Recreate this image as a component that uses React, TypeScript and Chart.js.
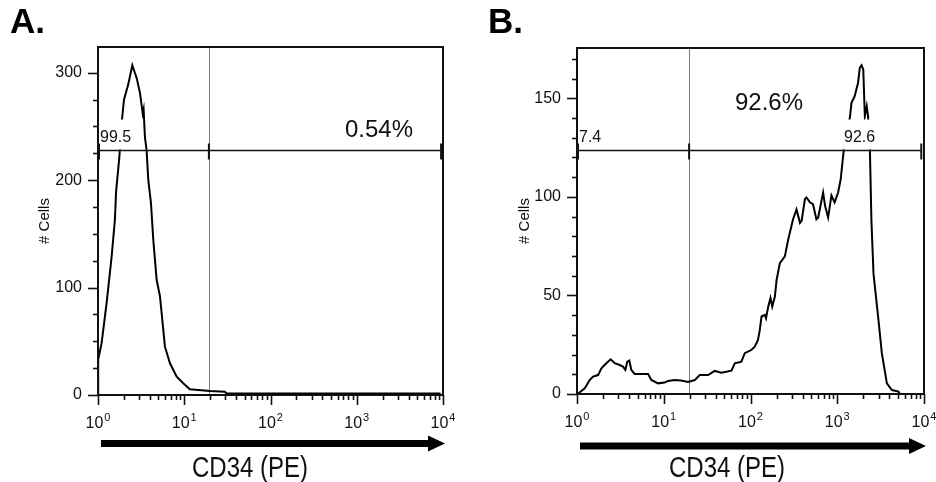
import React, { useEffect, useRef } from "react";
import { Chart, registerables } from "chart.js";

Chart.register(...registerables);

// ---------------- Data ----------------
// Panel A: CD34 (PE) intensity vs # cells
const panelAIntensity = [1.0, 1.0, 1.01, 1.1, 1.26, 1.44, 1.57, 1.62, 1.77, 1.88, 2.0, 2.24, 2.5, 2.81, 3.07, 3.3, 3.38, 3.5, 3.66, 3.83, 4.11, 4.38, 4.79, 5.23, 5.97, 6.83, 8.17, 9.73, 11.6, 19.9, 29.6, 31, 9100, 9200];
const panelACells = [0, 39, 33, 48, 86, 129, 163, 189, 222, 253, 275, 289, 307, 295, 281, 262, 266, 240, 228, 200, 179, 144, 107, 92, 45, 29.5, 17, 11, 5.3, 3.7, 3, 1.5, 1.5, 0];

// Panel B
const panelBIntensity = [1.0, 1.05, 1.23, 1.4, 1.53, 1.75, 1.91, 2.18, 2.44, 2.72, 3.1, 3.39, 3.61, 3.8, 4.01, 4.23, 4.62, 6.59, 7.19, 8.59, 10.2, 11.2, 13.4, 15.8, 19.1, 22.8, 26.0, 32.4, 38.7, 46.2, 60.3, 65.9, 78.5, 85.9, 102, 112, 122, 128, 134, 146, 151, 160, 170, 178, 191, 200, 218, 249, 272, 309, 339, 372, 389, 424, 442, 484, 525, 575, 603, 687, 724, 785, 857, 933, 1023, 1096, 1170, 1230, 1396, 1459, 1585, 1738, 1820, 1905, 1995, 2080, 2188, 2265, 2377, 2477, 2618, 2985, 3266, 3733, 4266, 5082, 5250];
const panelBCells = [0, 0.5, 2.9, 7.1, 8.8, 9.6, 13, 15.6, 17.6, 15.6, 14.7, 13.9, 12.2, 16.4, 17, 12.2, 10.2, 10.2, 7.1, 5.4, 5.8, 6.6, 7.1, 6.8, 6.1, 7.1, 9.6, 9.6, 11.7, 10.8, 11.8, 15.6, 16.4, 20.7, 22.3, 24, 27.4, 32.5, 39.3, 40.1, 38.4, 44.3, 48.7, 44.3, 49.4, 57.9, 66.4, 69.8, 78.3, 88.5, 93.6, 86.8, 88, 98.9, 99.7, 97.2, 96.3, 88.6, 89.5, 102.2, 95.5, 89.5, 100.7, 97.2, 102.2, 109, 120.8, 130, 140, 147.7, 151, 157.9, 165.5, 166.7, 164.6, 141, 146, 141, 124.6, 88, 61, 37.6, 20.7, 5.4, 2, 1.2, 0];

// Ticks
const yTicksA = [0, 100, 200, 300];
const yTicksB = [0, 50, 100, 150];
const xDecadeValues = [1, 10, 100, 1000, 10000];
const xDecadeExponents = ["0", "1", "2", "3", "4"];

// Gates (marker region) values
const gateA = { level: 228, split: 19.3, end: 9500, left: "99.5", right: "0.54%" };
const gateB = { level: 124, split: 19.6, end: 9300, left: "7.4", right: "92.6", big: "92.6%" };

const axisTitleX = "CD34 (PE)";
const axisTitleY = "# Cells";

const FONT = "'Liberation Sans', Arial, Helvetica, sans-serif";

type PanelCfg = {
  letter: string;
  offsetX: number;
  intensity: number[];
  cells: number[];
  yMax: number;
  yTicks: number[];
  yMinorStep: number;
  gate: { level: number; split: number; end: number; left: string; right: string; big?: string };
  yWidth: number;
  xHeight: number;
  padTop: number;
  padRight: number;
  titlePad: number;
  bigLabel: { text: string; x: number; y: number; align: CanvasTextAlign };
  smallRightX: number | null; // centered x position (value) for small right label
  xTitleX: number;
  arrowStart: number;
  arrowY: number;
};

function Panel({ cfg }: { cfg: PanelCfg }) {
  const ref = useRef<HTMLCanvasElement>(null);
  useEffect(() => {
    const canvas = ref.current!;
    const plugin = {
      id: "facsDecor" + cfg.letter,
      beforeDatasetsDraw(chart: any) {
        const { ctx, chartArea: a, scales } = chart;
        const px = Math.round(scales.x.getPixelForValue(cfg.gate.split)) + 0.5;
        ctx.save();
        ctx.strokeStyle = "#7a7a7a";
        ctx.lineWidth = 1;
        ctx.beginPath();
        ctx.moveTo(px, a.top);
        ctx.lineTo(px, a.bottom);
        ctx.stroke();
        ctx.restore();
      },
      afterDatasetsDraw(chart: any) {
        const { ctx, chartArea: a, scales } = chart;
        const x = scales.x;
        const y = scales.y;
        const gy = Math.round(y.getPixelForValue(cfg.gate.level)) + 0.5;
        const x0 = a.left;
        const xm = x.getPixelForValue(cfg.gate.split);
        const x1 = x.getPixelForValue(cfg.gate.end);
        ctx.save();
        ctx.textBaseline = "alphabetic";
        // small labels with white background
        ctx.font = `16px ${FONT}`;
        const drawSmall = (text: string, cx: number, align: "left" | "center") => {
          const w = ctx.measureText(text).width;
          const left = align === "left" ? cx : cx - w / 2;
          ctx.fillStyle = "#fff";
          ctx.fillRect(left - 1, gy - 31, w + 2, 30);
          ctx.fillStyle = "#111";
          ctx.textAlign = "left";
          ctx.fillText(text, left, gy - 9);
        };
        drawSmall(cfg.gate.left, x0 + 2, "left");
        if (cfg.smallRightX !== null) {
          drawSmall(cfg.gate.right, x.getPixelForValue(cfg.smallRightX), "center");
        }
        // big label
        ctx.font = `24px ${FONT}`;
        ctx.fillStyle = "#111";
        ctx.textAlign = cfg.bigLabel.align;
        ctx.fillText(cfg.bigLabel.text, a.left + cfg.bigLabel.x, cfg.bigLabel.y);
        // gate line
        ctx.strokeStyle = "#111";
        ctx.lineWidth = 1.6;
        ctx.beginPath();
        ctx.moveTo(x0, gy);
        ctx.lineTo(x1, gy);
        ctx.stroke();
        ctx.lineWidth = 2;
        for (const px of [x0 + 1, xm, x1]) {
          ctx.beginPath();
          ctx.moveTo(px, gy - 7);
          ctx.lineTo(px, gy + 9);
          ctx.stroke();
        }
        ctx.restore();
      },
      afterDraw(chart: any) {
        const { ctx, chartArea: a, scales } = chart;
        const x = scales.x;
        const y = scales.y;
        ctx.save();
        // frame
        ctx.strokeStyle = "#111";
        ctx.lineWidth = 2;
        ctx.strokeRect(a.left, a.top, a.right - a.left, a.bottom - a.top);
        // y ticks (major + minor)
        ctx.lineWidth = 1.6;
        for (let v = 0; v <= cfg.yMax + 1e-9; v += cfg.yMinorStep) {
          const py = Math.round(y.getPixelForValue(v)) + 0.5;
          const major = cfg.yTicks.includes(v);
          ctx.beginPath();
          ctx.moveTo(a.left, py);
          ctx.lineTo(a.left - (major ? 10 : 5), py);
          ctx.stroke();
        }
        // x ticks (decades + minor log ticks)
        for (let d = 0; d < xDecadeValues.length; d++) {
          const dv = xDecadeValues[d];
          const px = Math.round(x.getPixelForValue(dv)) + 0.5;
          ctx.beginPath();
          ctx.moveTo(px, a.bottom);
          ctx.lineTo(px, a.bottom + 10);
          ctx.stroke();
          if (d < xDecadeValues.length - 1) {
            for (let m = 2; m <= 9; m++) {
              const mx = Math.round(x.getPixelForValue(dv * m)) + 0.5;
              ctx.beginPath();
              ctx.moveTo(mx, a.bottom);
              ctx.lineTo(mx, a.bottom + 5);
              ctx.stroke();
            }
          }
        }
        // x tick labels: 10 with superscript exponent
        ctx.fillStyle = "#111";
        ctx.textAlign = "left";
        ctx.textBaseline = "alphabetic";
        const base = a.bottom + 33;
        for (let d = 0; d < xDecadeValues.length; d++) {
          const px = x.getPixelForValue(xDecadeValues[d]);
          ctx.font = `16px ${FONT}`;
          const w1 = ctx.measureText("10").width;
          ctx.font = `11px ${FONT}`;
          const w2 = ctx.measureText(xDecadeExponents[d]).width;
          const start = px - (w1 + w2 + 1) / 2;
          ctx.font = `16px ${FONT}`;
          ctx.fillText("10", start, base);
          ctx.font = `11px ${FONT}`;
          ctx.fillText(xDecadeExponents[d], start + w1 + 1, base - 7);
        }
        // arrow
        const ay = cfg.arrowY;
        const tip = a.right + 2;
        ctx.fillStyle = "#000";
        ctx.fillRect(cfg.arrowStart, ay - 3.5, tip - 14 - cfg.arrowStart, 7);
        ctx.beginPath();
        ctx.moveTo(tip - 17, ay - 8);
        ctx.lineTo(tip, ay);
        ctx.lineTo(tip - 17, ay + 8);
        ctx.closePath();
        ctx.fill();
        // x axis title (slightly tall font)
        ctx.save();
        ctx.translate(cfg.xTitleX, 477);
        ctx.scale(1, 1.2);
        ctx.font = `24px ${FONT}`;
        ctx.textAlign = "center";
        ctx.fillStyle = "#111";
        ctx.fillText(axisTitleX, 0, 0);
        ctx.restore();
        // panel letter
        ctx.font = `bold 35px ${FONT}`;
        ctx.textAlign = "left";
        ctx.fillStyle = "#000";
        ctx.fillText(cfg.letter, cfg.letter.startsWith("A") ? 10 : 20, 33);
        ctx.restore();
      },
    };

    const chart = new Chart(canvas, {
      type: "line",
      data: {
        datasets: [
          {
            data: cfg.intensity.map((v, i) => ({ x: v, y: cfg.cells[i] })),
            borderColor: "#000",
            borderWidth: 2,
            pointRadius: 0,
            tension: 0,
            fill: false,
          },
        ],
      },
      options: {
        animation: false,
        responsive: false,
        maintainAspectRatio: false,
        devicePixelRatio: 1,
        layout: { padding: { left: 0, right: cfg.padRight, top: cfg.padTop, bottom: 0 } },
        plugins: { legend: { display: false }, tooltip: { enabled: false } },
        scales: {
          x: {
            type: "logarithmic",
            min: 1,
            max: 10000,
            grid: { display: false, drawTicks: false },
            border: { display: false },
            ticks: { display: false },
            afterFit: (s: any) => {
              s.height = cfg.xHeight;
            },
          },
          y: {
            type: "linear",
            min: 0,
            max: cfg.yMax,
            grid: { display: false, drawTicks: false },
            border: { display: false },
            afterBuildTicks: (s: any) => {
              s.ticks = cfg.yTicks.map((v) => ({ value: v }));
            },
            ticks: {
              padding: 16,
              color: "#111",
              font: { size: 16, family: FONT },
            },
            title: {
              display: true,
              text: axisTitleY,
              color: "#111",
              font: { size: 15, family: FONT },
              padding: { top: cfg.titlePad, bottom: 0 },
            },
            afterFit: (s: any) => {
              s.width = cfg.yWidth;
            },
          },
        },
      },
      plugins: [plugin],
    } as any);
    return () => chart.destroy();
  }, [cfg]);
  return (
    <canvas
      ref={ref}
      width={468}
      height={482}
      style={{ position: "absolute", left: cfg.offsetX, top: 0, width: 468, height: 482, display: "block" }}
    />
  );
}

const cfgA: PanelCfg = {
  letter: "A.",
  offsetX: 0,
  intensity: panelAIntensity,
  cells: panelACells,
  yMax: 324,
  yTicks: yTicksA,
  yMinorStep: 25,
  gate: gateA,
  yWidth: 98,
  xHeight: 87,
  padTop: 47,
  padRight: 25,
  titlePad: 36,
  bigLabel: { text: gateA.right, x: 247, y: 137, align: "left" },
  smallRightX: null,
  xTitleX: 250,
  arrowStart: 101,
  arrowY: 443.5,
};

const cfgB: PanelCfg = {
  letter: "B.",
  offsetX: 468,
  intensity: panelBIntensity,
  cells: panelBCells,
  yMax: 175.5,
  yTicks: yTicksB,
  yMinorStep: 10,
  gate: gateB,
  yWidth: 109,
  xHeight: 88,
  padTop: 48,
  padRight: 12,
  titlePad: 48,
  bigLabel: { text: gateB.big as string, x: 158, y: 110, align: "left" },
  smallRightX: 1810,
  xTitleX: 259,
  arrowStart: 112,
  arrowY: 446,
};

export default function App() {
  return (
    <div style={{ position: "absolute", left: 0, top: 0, width: 936, height: 482, background: "#fff", overflow: "hidden" }}>
      <Panel cfg={cfgA} />
      <Panel cfg={cfgB} />
    </div>
  );
}
